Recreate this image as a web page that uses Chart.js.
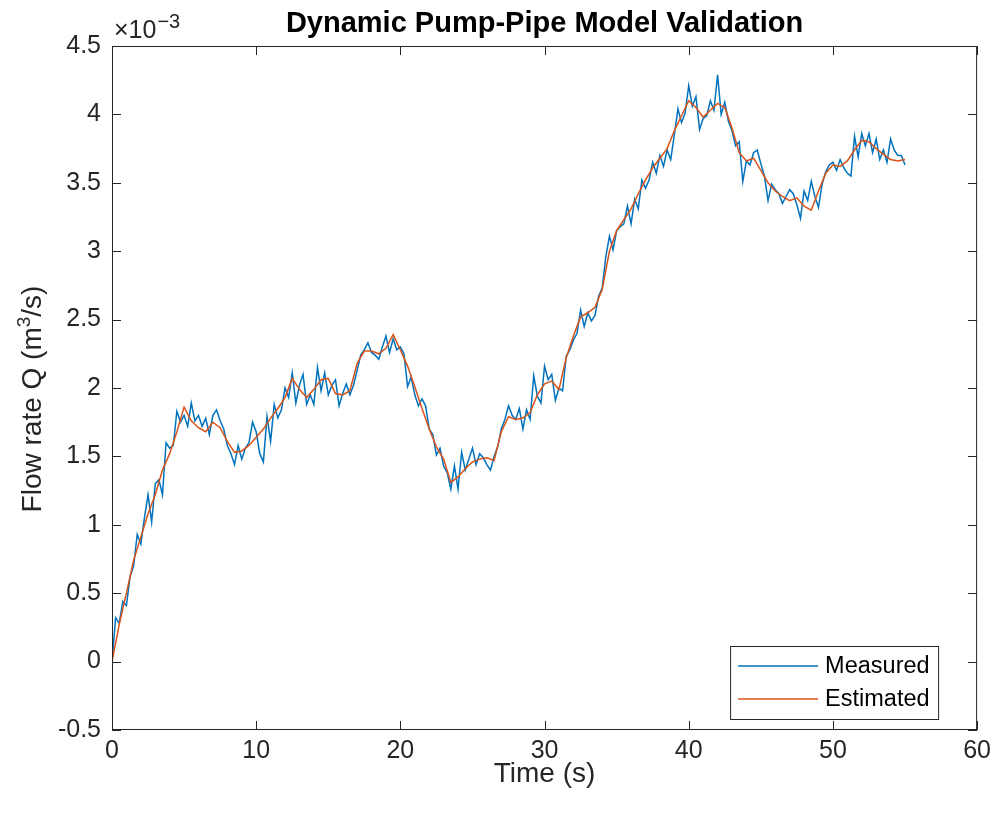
<!DOCTYPE html>
<html>
<head>
<meta charset="utf-8">
<title>Dynamic Pump-Pipe Model Validation</title>
<script src="https://cdn.jsdelivr.net/npm/chart.js@4.4.1/dist/chart.umd.min.js"></script>
<style>
    html, body { margin: 0; padding: 0; background: #fff; }
    #wrap { width: 997px; height: 818px; }
</style>
</head>
<body>
<div id="wrap"><canvas id="chart" width="997" height="818"></canvas></div>
<script>
// Debit mesure et estime, en 10^-3 m3/s
const measuredStep = 0.25; // s
const measuredFlow = [
    0.00, 0.32, 0.28, 0.44, 0.41, 0.62, 0.70, 0.93, 0.86, 1.05, 1.22, 1.02, 1.30, 1.33, 1.22, 1.60,
    1.56, 1.58, 1.83, 1.75, 1.80, 1.72, 1.89, 1.76, 1.80, 1.72, 1.78, 1.66, 1.80, 1.84, 1.76, 1.70,
    1.58, 1.52, 1.44, 1.58, 1.48, 1.56, 1.60, 1.75, 1.68, 1.52, 1.46, 1.79, 1.61, 1.88, 1.78, 1.84,
    2.00, 1.93, 2.11, 1.89, 2.02, 2.10, 1.88, 1.95, 1.88, 2.15, 1.98, 2.11, 1.95, 2.02, 2.06, 1.87,
    1.96, 2.03, 1.95, 2.02, 2.13, 2.24, 2.28, 2.33, 2.26, 2.24, 2.21, 2.30, 2.38, 2.26, 2.36, 2.28,
    2.30, 2.25, 2.01, 2.08, 1.95, 1.87, 1.92, 1.87, 1.70, 1.66, 1.51, 1.56, 1.43, 1.38, 1.26, 1.43,
    1.26, 1.53, 1.40, 1.48, 1.56, 1.44, 1.52, 1.49, 1.44, 1.40, 1.50, 1.57, 1.70, 1.77, 1.87, 1.80,
    1.77, 1.85, 1.70, 1.84, 1.77, 2.09, 1.94, 1.89, 2.16, 2.06, 2.10, 1.91, 2.00, 1.98, 2.23, 2.28,
    2.35, 2.40, 2.57, 2.45, 2.55, 2.49, 2.53, 2.67, 2.73, 2.96, 3.11, 3.01, 3.15, 3.18, 3.20, 3.33,
    3.20, 3.38, 3.31, 3.52, 3.46, 3.52, 3.65, 3.57, 3.70, 3.62, 3.74, 3.67, 3.85, 4.04, 3.94, 4.01,
    4.21, 4.06, 4.13, 3.89, 3.97, 3.99, 4.10, 4.03, 4.29, 4.00, 4.09, 3.95, 3.88, 3.77, 3.80, 3.51,
    3.66, 3.63, 3.72, 3.74, 3.64, 3.55, 3.37, 3.49, 3.45, 3.42, 3.35, 3.40, 3.45, 3.42, 3.34, 3.24,
    3.44, 3.37, 3.51, 3.40, 3.32, 3.49, 3.58, 3.63, 3.65, 3.59, 3.67, 3.61, 3.57, 3.55, 3.84, 3.69,
    3.86, 3.77, 3.86, 3.72, 3.82, 3.67, 3.74, 3.65, 3.82, 3.74, 3.70, 3.70, 3.63
];

const estimatedStep = 0.5; // s
const estimatedFlow = [
    0.00, 0.27, 0.50, 0.74, 0.91, 1.08, 1.22, 1.40, 1.52, 1.68, 1.86, 1.76, 1.71, 1.68, 1.75, 1.71,
    1.61, 1.53, 1.54, 1.58, 1.64, 1.70, 1.78, 1.85, 1.93, 2.07, 1.99, 1.93, 1.99, 2.06, 2.07, 1.96,
    1.95, 1.98, 2.18, 2.27, 2.27, 2.25, 2.29, 2.39, 2.28, 2.16, 2.01, 1.85, 1.70, 1.57, 1.48, 1.31,
    1.35, 1.41, 1.46, 1.48, 1.49, 1.47, 1.68, 1.79, 1.77, 1.78, 1.82, 1.95, 2.03, 2.05, 1.99, 2.22,
    2.38, 2.52, 2.55, 2.59, 2.72, 3.00, 3.15, 3.23, 3.31, 3.42, 3.52, 3.61, 3.68, 3.75, 3.88, 3.99,
    4.10, 4.05, 3.98, 4.03, 4.08, 4.05, 3.90, 3.72, 3.66, 3.68, 3.59, 3.50, 3.44, 3.40, 3.37, 3.39,
    3.33, 3.30, 3.44, 3.57, 3.63, 3.62, 3.66, 3.74, 3.81, 3.80, 3.75, 3.71, 3.67, 3.66, 3.67
];

const seriesNames = ['Measured', 'Estimated'];
const seriesColors = ['#0072BD', '#D95319'];

const xRange = [0, 60, 10];
const yRange = [-0.5, 4.5, 0.5];

const FONT = "'Liberation Sans', Arial, Helvetica, sans-serif";
const AXIS_COLOR = '#262626';

function toPoints(values, step) {
    return values.map((q, i) => ({ x: i * step, y: q }));
}

// Libelle Y avec exposant, dessine tourne de -90 degres
function drawYLabel(ctx, cx, cy) {
    const parts = [
        { text: 'Flow rate Q (m', size: 28, rise: 0 },
        { text: '3', size: 19, rise: 11 },
        { text: '/s)', size: 28, rise: 0 }
    ];
    let total = 0;
    for (const p of parts) {
        ctx.font = `${p.size}px ${FONT}`;
        p.w = ctx.measureText(p.text).width;
        total += p.w;
    }
    ctx.save();
    ctx.translate(cx, cy);
    ctx.rotate(-Math.PI / 2);
    ctx.textAlign = 'left';
    ctx.textBaseline = 'alphabetic';
    let x = -total / 2;
    for (const p of parts) {
        ctx.font = `${p.size}px ${FONT}`;
        ctx.fillText(p.text, x, 10 - p.rise);
        x += p.w;
    }
    ctx.restore();
}

// Cadre, graduations interieures, titre, exposant et legende facon MATLAB
const matlabFrame = {
    id: 'matlabFrame',
    afterDraw(chart) {
        const ctx = chart.ctx;
        const area = chart.chartArea;
        const xs = chart.scales.x;
        const ys = chart.scales.y;
        const tickLen = 9;

        ctx.save();
        ctx.strokeStyle = AXIS_COLOR;
        ctx.lineWidth = 1;
        ctx.strokeRect(area.left + 0.5, area.top + 0.5, area.right - area.left - 1, area.bottom - area.top - 1);

        ctx.beginPath();
        for (const t of xs.ticks) {
            const px = Math.round(xs.getPixelForValue(t.value)) + 0.5;
            ctx.moveTo(px, area.bottom);
            ctx.lineTo(px, area.bottom - tickLen);
            ctx.moveTo(px, area.top);
            ctx.lineTo(px, area.top + tickLen);
        }
        for (const t of ys.ticks) {
            const py = Math.round(ys.getPixelForValue(t.value)) + 0.5;
            ctx.moveTo(area.left, py);
            ctx.lineTo(area.left + tickLen, py);
            ctx.moveTo(area.right, py);
            ctx.lineTo(area.right - tickLen, py);
        }
        ctx.stroke();

        // Titre centre sur les axes
        ctx.fillStyle = '#000';
        ctx.font = `bold 29px ${FONT}`;
        ctx.textAlign = 'center';
        ctx.textBaseline = 'alphabetic';
        ctx.fillText('Dynamic Pump-Pipe Model Validation', (area.left + area.right) / 2, 32);

        // Libelle de l'axe Y
        ctx.fillStyle = AXIS_COLOR;
        drawYLabel(ctx, 31, 399);

        // Exposant de l'axe Y
        ctx.textAlign = 'left';
        ctx.textBaseline = 'alphabetic';
        ctx.font = `25px ${FONT}`;
        ctx.fillText('\u00d710', area.left + 2, 38);
        const w = ctx.measureText('\u00d710').width;
        ctx.font = `20px ${FONT}`;
        ctx.fillText('\u22123', area.left + 3 + w, 28);

        // Legende
        const boxW = 208;
        const boxH = 73;
        const boxX = area.right - 39 - boxW;
        const boxY = area.bottom - 11 - boxH;
        ctx.fillStyle = '#fff';
        ctx.fillRect(boxX, boxY, boxW, boxH);
        ctx.strokeStyle = AXIS_COLOR;
        ctx.strokeRect(boxX + 0.5, boxY + 0.5, boxW, boxH);

        ctx.font = `23.5px ${FONT}`;
        ctx.textBaseline = 'middle';
        seriesNames.forEach((name, i) => {
            const rowY = boxY + 20 + i * 33;
            ctx.strokeStyle = seriesColors[i];
            ctx.lineWidth = 1.5;
            ctx.beginPath();
            ctx.moveTo(boxX + 8, rowY);
            ctx.lineTo(boxX + 88, rowY);
            ctx.stroke();
            ctx.fillStyle = '#000';
            ctx.fillText(name, boxX + 95, rowY + 1);
        });
        ctx.restore();
    }
};

const ctx = document.getElementById('chart').getContext('2d');

new Chart(ctx, {
    type: 'line',
    data: {
        datasets: [
            {
                label: seriesNames[0],
                data: toPoints(measuredFlow, measuredStep),
                borderColor: seriesColors[0],
                borderWidth: 1.5,
                pointRadius: 0,
                tension: 0,
                fill: false,
                order: 1
            },
            {
                label: seriesNames[1],
                data: toPoints(estimatedFlow, estimatedStep),
                borderColor: seriesColors[1],
                borderWidth: 1.5,
                pointRadius: 0,
                tension: 0,
                fill: false,
                order: 0
            }
        ]
    },
    options: {
        responsive: false,
        animation: false,
        devicePixelRatio: 1,
        layout: {
            padding: { left: 0, right: 18, top: 46, bottom: 0 }
        },
        plugins: {
            legend: { display: false },
            title: { display: false },
            tooltip: { enabled: false }
        },
        scales: {
            x: {
                type: 'linear',
                min: xRange[0],
                max: xRange[1],
                grid: { display: false, drawTicks: false },
                border: { display: false },
                ticks: {
                    stepSize: xRange[2],
                    padding: 6,
                    color: AXIS_COLOR,
                    font: { family: FONT, size: 25 },
                    maxRotation: 0
                },
                title: {
                    display: true,
                    text: 'Time (s)',
                    color: AXIS_COLOR,
                    font: { family: FONT, size: 28 },
                    padding: { top: 0, bottom: 27 }
                },
                afterFit(scale) { scale.height = 88; }
            },
            y: {
                type: 'linear',
                min: yRange[0],
                max: yRange[1],
                grid: { display: false, drawTicks: false },
                border: { display: false },
                ticks: {
                    stepSize: yRange[2],
                    padding: 11,
                    color: AXIS_COLOR,
                    font: { family: FONT, size: 25 },
                    callback: (value) => String(Number(value.toFixed(1)))
                },
                title: { display: false },
                afterFit(scale) { scale.width = 112; }
            }
        }
    },
    plugins: [matlabFrame]
});
</script>
</body>
</html>
